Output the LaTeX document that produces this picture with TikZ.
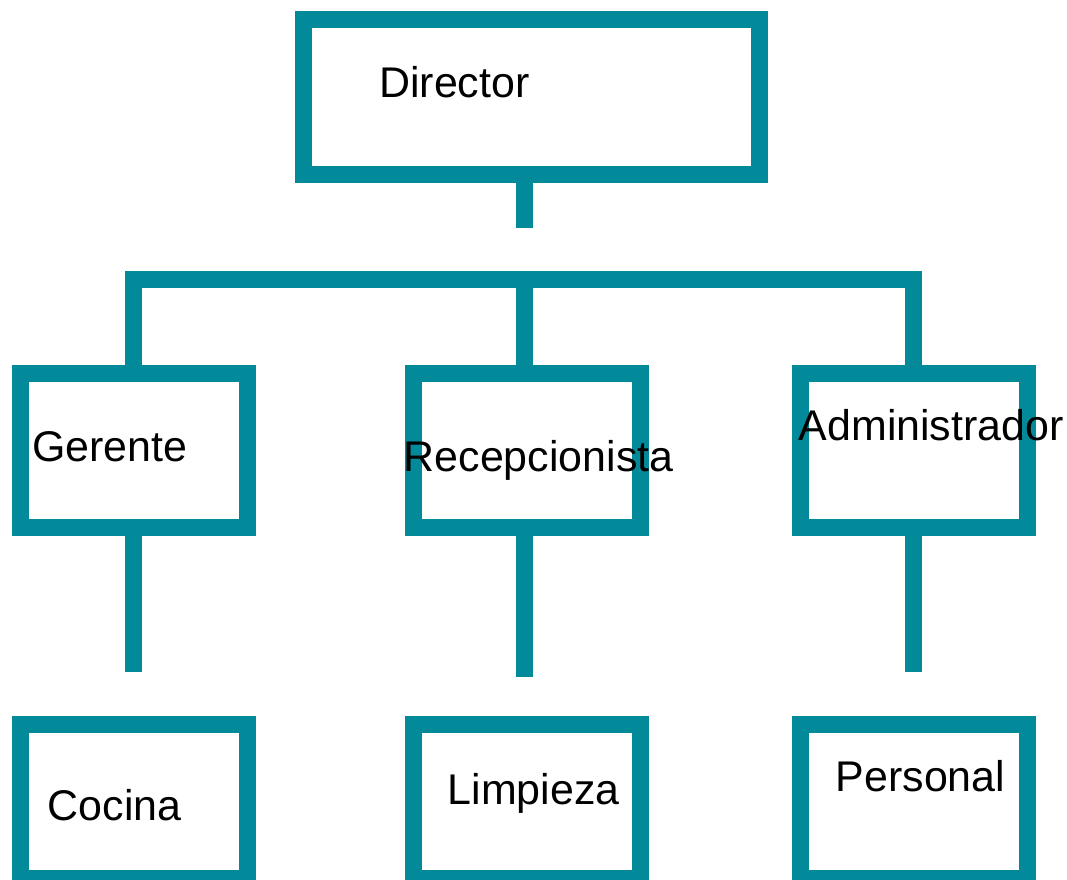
\documentclass[tikz,border=0pt]{standalone}
\usepackage{fontspec}
\setmainfont{Liberation Sans}
\usepackage{tikz}
\definecolor{tealbox}{RGB}{2,138,154}
\tikzset{
  orgbox/.style={draw=tealbox, line width=12.75pt, fill=white, rectangle, inner sep=0pt, minimum width=170.25pt, minimum height=115.9pt},
  link/.style={draw=tealbox, line width=12.75pt, line join=miter},
  orgtext/.style={anchor=base west, inner sep=0pt, font=\fontsize{32.2}{38}\selectfont}
}

\begin{document}
\begin{tikzpicture}[x=0.75pt,y=0.75pt,yscale=-1,xscale=1]
\useasboundingbox (0,0) rectangle (1067,879);

%Shape: Rectangle [id:dir]
\node [orgbox, minimum width=341.5pt] (dir) at (531.4,96.9) {};
%Shape: Rectangle [id:ger]
\node [orgbox] (ger) at (133.8,450.5) {};
%Shape: Rectangle [id:rec]
\node [orgbox] (rec) at (527.2,450.5) {};
%Shape: Rectangle [id:adm]
\node [orgbox] (adm) at (913.9,450.5) {};
%Shape: Rectangle [id:coc]
\node [orgbox] (coc) at (133.8,801.3) {};
%Shape: Rectangle [id:lim]
\node [orgbox] (lim) at (527.2,801.3) {};
%Shape: Rectangle [id:per]
\node [orgbox] (per) at (913.9,801.3) {};

%Straight Lines
\coordinate (dirEnd) at (524,227.7);
\coordinate (busL) at (133.8,279);
\coordinate (busM) at (524,279);
\coordinate (busR) at (913.9,279);
\coordinate (gerEnd) at (133.8,671.7);
\coordinate (recEnd) at (524,677.3);
\coordinate (admEnd) at (913.9,671.7);
\draw [link] (dirEnd |- dir.south) -- (dirEnd);
\draw [link] (ger.north) -- (busL) -- (busR) -- (adm.north);
\draw [link] (busM) -- (busM |- rec.north);
\draw [link] (ger.south) -- (gerEnd);
\draw [link] (recEnd |- rec.south) -- (recEnd);
\draw [link] (adm.south) -- (admEnd);

% Text Node
\node [orgtext] (tDir) at (379,97.7) {Director};
% Text Node
\node [orgtext] (tGer) at (32,461) {Gerente};
% Text Node
\node [orgtext] (tRec) at (403.5,471.7) {Recepcionista};
% Text Node
\node [orgtext] (tAdm) at (798.5,440) {Administrador};
% Text Node
\node [orgtext] (tCoc) at (47.5,820) {Cocina};
% Text Node
\node [orgtext] (tLim) at (447.5,804) {Limpieza};
% Text Node
\node [orgtext] (tPer) at (835.5,791.7) {Personal};

\end{tikzpicture}
\end{document}
